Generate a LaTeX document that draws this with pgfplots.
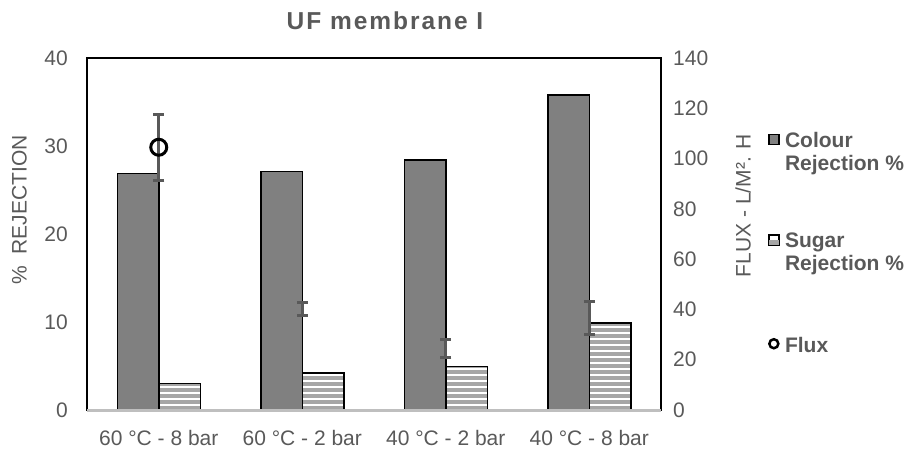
\documentclass[border=0pt]{standalone}
\usepackage{pgfplots}
\pgfplotsset{compat=1.18}
\usepackage{fontspec}
\setmainfont{Liberation Sans}
\usetikzlibrary{patterns.meta}
\definecolor{txt}{HTML}{595959}
\definecolor{barg}{HTML}{808080}
\definecolor{stripe}{HTML}{A6A6A6}
\definecolor{errc}{HTML}{595959}
\definecolor{axg}{HTML}{BFBFBF}
\begin{document}
\begin{tikzpicture}[x=1pt,y=1pt]
\pgfplotsset{
  base/.style={
    at={(87pt,40pt)}, anchor=south west,
    scale only axis, width=574pt, height=352pt,
    xmin=-0.5, xmax=3.5,
    tick style={draw=none},
    ticklabel style={font=\fontsize{21}{25}\selectfont, text=txt, inner sep=0pt},
    /pgf/number format/assume math mode=true,
    label style={font=\fontsize{21}{25}\selectfont, text=txt},
  }
}
\begin{axis}[base,
  ymin=0, ymax=40, ytick={0,10,20,30,40},
  xtick={0,1,2,3},
  xticklabels={60 °C - 8 bar, 60 °C - 2 bar, 40 °C - 2 bar, 40 °C - 8 bar},
  yticklabel style={anchor=east, xshift=-19pt},
  xticklabel style={anchor=north, yshift=-16pt},
  ybar=0pt, bar width=41.5pt,
  axis line style={line width=2.5pt, black},
  ylabel={\%\ \ REJECTION},
  ylabel style={at={(rel axis cs:-0.118,0.568)}, anchor=center},
  clip=false,
]
\addplot[draw=black, line width=1.5pt, fill=barg] coordinates {(0,26.9) (1,27.1) (2,28.4) (3,35.8)};
\addplot[draw=black, line width=1.5pt, pattern={Lines[angle=0,distance=6pt,line width=3.5pt]}, pattern color=stripe] coordinates {(0,3.0) (1,4.2) (2,4.95) (3,9.9)};
\draw[axg, line width=3pt] (rel axis cs:0,0) -- (rel axis cs:1,0);
\end{axis}
\begin{axis}[base,
  ymin=0, ymax=140, ytick={0,20,...,140},
  axis x line=none, axis y line*=right,
  axis line style={draw=none},
  yticklabel style={anchor=west, xshift=12pt},
  ylabel={FLUX - L/M². H},
  ylabel style={at={(rel axis cs:1.143,0.581)}, anchor=center},
  legend style={at={(rel axis cs:1.181,0.80)}, anchor=north west, draw=none, fill=none,
    font=\bfseries\fontsize{21}{23}\selectfont, text=txt, row sep=57pt,
    nodes={align=left}},
  legend cell align=left,
  clip=false,
]
\addlegendimage{legend image code/.code={\draw[fill=barg,draw=black,line width=1.5pt] (0pt,8pt) rectangle (10pt,18pt);\path (14pt,0pt);}}
\addlegendentry{Colour\\Rejection \%}
\addlegendimage{legend image code/.code={\draw[fill=white,draw=black,line width=1.5pt] (0pt,8pt) rectangle (10pt,18pt);\fill[stripe] (0.75pt,8.75pt) rectangle (9.25pt,12.5pt);\path (14pt,0pt);}}
\addlegendentry{Sugar\\Rejection \%}
\addlegendimage{legend image code/.code={\draw[fill=white,draw=black,line width=2.5pt] (5pt,0pt) circle (4.5pt);\path (14pt,0pt);}}
\addlegendentry{\rule{0pt}{19pt}Flux}
\addplot[forget plot, only marks, mark=o, mark size=8pt, mark options={fill=white, draw=black, line width=3pt},
  error bars/.cd, y dir=both, y explicit,
  error bar style={line width=3pt, errc},
  error mark options={rotate=90, mark size=5.5pt, line width=3pt, errc}]
  coordinates {(0,104.5) +- (0,13.2)};
\addplot[forget plot, draw=none, mark=none,
  error bars/.cd, y dir=both, y explicit,
  error bar style={line width=3pt, errc},
  error mark options={rotate=90, mark size=5.5pt, line width=3pt, errc}]
  coordinates {(1,40.0) +- (0,2.6) (2,24.5) +- (0,3.6) (3,36.6) +- (0,6.4)};
\end{axis}
\node[font=\bfseries\fontsize{24.5}{28}\selectfont\addfontfeature{LetterSpace=8}, text=txt] at (385pt,429pt) {UF membrane I};
\pgfresetboundingbox
\useasboundingbox (0,0) rectangle (907pt,450pt);
\end{tikzpicture}
\end{document}
